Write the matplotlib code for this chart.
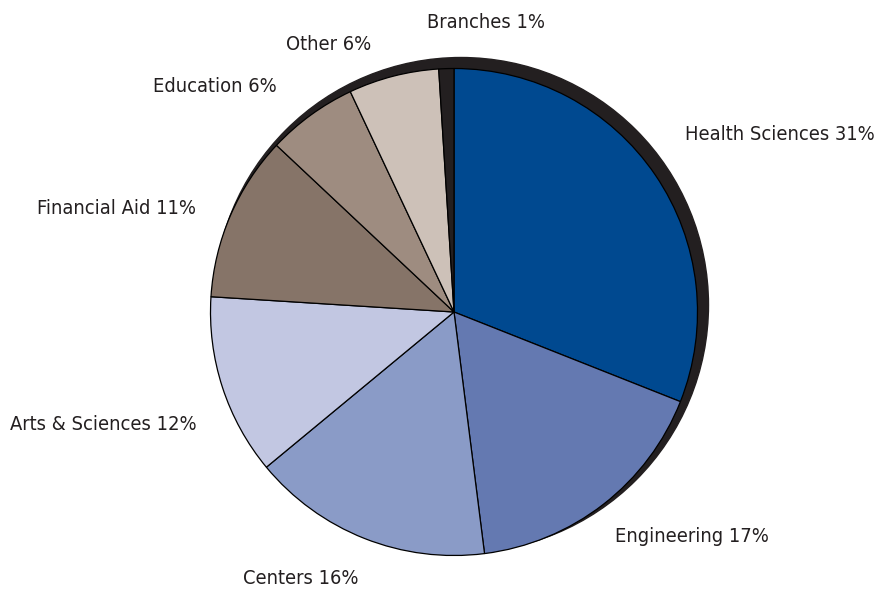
import matplotlib
matplotlib.use('Agg')
import matplotlib.pyplot as plt
from matplotlib.patches import Circle

# share of budget by unit (percent), clockwise from 12 o'clock
units = ['Health Sciences', 'Engineering', 'Centers', 'Arts & Sciences',
         'Financial Aid', 'Education', 'Other', 'Branches']
shares = [31, 17, 16, 12, 11, 6, 6, 1]
colors = ['#004990', '#6479b1', '#8a9bc7', '#c2c7e2',
          '#867468', '#9e8c80', '#cdc1b8', '#231f20']

# label anchor points in pixels (left edge, middle), image coords
label_pos = [(685, 135), (615, 537), (243, 579), (10, 425),
             (37, 208), (153, 86), (286, 44), (427, 22)]

W, H = 878, 601
fig = plt.figure(figsize=(W / 100, H / 100), dpi=100)
ax = fig.add_axes([0, 0, 1, 1])

cx, cy, r = 454, H - 312, 243.5

# dark offset shadow behind the pie
ax.add_patch(Circle((cx + 7, cy + 7), r + 4, color='#231f20', zorder=1))

wedges, _ = ax.pie(shares, colors=colors, startangle=90, counterclock=False,
                   center=(cx, cy), radius=r, frame=True,
                   wedgeprops=dict(edgecolor='black', linewidth=0.9))
for w in wedges:
    w.set_zorder(2)
ax.set_xlim(0, W)
ax.set_ylim(0, H)
ax.set_aspect('equal')
ax.axis('off')

for name, val, (x, y) in zip(units, shares, label_pos):
    ax.text(x, H - y, f'{name} {val}%', ha='left', va='center',
            fontsize=14.4, color='#231f20', fontstretch='condensed',
            family=['DejaVu Sans'])

fig.savefig('out.png', dpi=100)
